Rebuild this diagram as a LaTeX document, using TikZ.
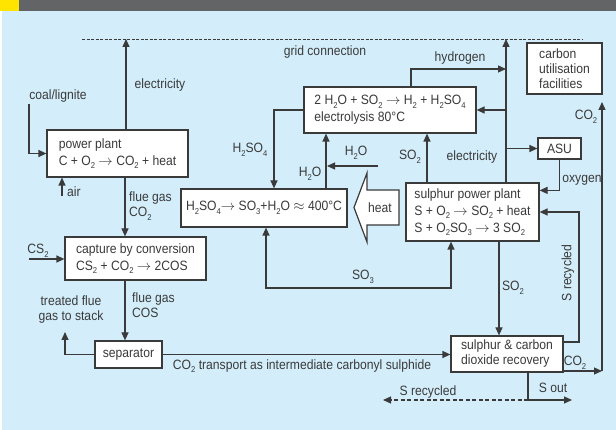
\documentclass[tikz,border=0pt]{standalone}
\usepackage{fontspec}
\setmainfont{Liberation Sans}[FakeStretch=0.9]
\usetikzlibrary{arrows.meta}
\definecolor{barcol}{HTML}{636466}
\definecolor{barmark}{HTML}{FFE400}
\definecolor{panel}{HTML}{D3EEFA}
\definecolor{ink}{HTML}{3A3A3A}
\newcommand{\lowidx}[1]{\raisebox{-0.5ex}{\fontsize{8.5}{9}\selectfont #1}}

\begin{document}
\begin{tikzpicture}[x=1pt,y=-1pt,font=\fontsize{13.5}{15}\selectfont,text=ink]
    \tikzstyle{box}  = [draw=ink,fill=white,line width=1.2pt,inner sep=2pt,align=left]
    \tikzstyle{flow} = [draw=ink,line width=1.2pt,>={Triangle[length=8pt,width=7pt]},->]
    \tikzstyle{lbl}  = [inner sep=0pt]

    \useasboundingbox (0,0) rectangle (616,430);
    \fill[panel] (2,11) rectangle (616,430);
    \fill[barcol] (0,0) rectangle (616,11);
    \fill[barmark] (0,0) rectangle (19,11);

    % boxes
    \node[box,minimum width=141pt,minimum height=47pt] (pp) at (117.5,153.5) {power plant\\[2pt]C + O\lowidx{2} $\rightarrow$ CO\lowidx{2} + heat};
    \node[box,minimum width=141pt,minimum height=43pt] (cap) at (135.5,258.5) {capture by conversion\\[2pt]CS\lowidx{2} + CO\lowidx{2} $\rightarrow$ 2COS};
    \node[box,minimum width=67pt,minimum height=27pt] (sep) at (128.5,354.5) {separator};
    \node[box,minimum width=112pt,minimum height=36pt] (rec) at (507,354) {sulphur \& carbon\\dioxide recovery};
    \node[box,minimum width=133pt,minimum height=58pt] (spp) at (472.5,212) {sulphur power plant\\[2pt]S + O\lowidx{2} $\rightarrow$ SO\lowidx{2} + heat\\[2pt]S + O\lowidx{2}SO\lowidx{3} $\rightarrow$ 3 SO\lowidx{2}};
    \node[box,minimum width=166pt,minimum height=38pt] (dec) at (264,208) {H\lowidx{2}SO\lowidx{4}$\rightarrow$ SO\lowidx{3}+H\lowidx{2}O $\approx$ 400°C};
    \node[box,minimum width=172pt,minimum height=46pt] (ely) at (390,110) {2 H\lowidx{2}O + SO\lowidx{2} $\rightarrow$ H\lowidx{2} + H\lowidx{2}SO\lowidx{4}\\[2pt]electrolysis 80°C};
    \node[box,minimum width=43pt,minimum height=21pt] (asu) at (559.5,148.5) {ASU};
    \node[box,minimum width=75pt,minimum height=51pt] (cuf) at (564.5,68.5) {carbon\\utilisation\\facilities};

    % heat arrow
    \draw[draw=ink,fill=white,line width=1.2pt] (399,190) -- (367,190) -- (367,173) -- (354,207.5) -- (367,242) -- (367,225) -- (399,225) -- cycle;
    \node[lbl] (heattxt) at (380,207.5) {heat};

    % grid connection
    \coordinate (gridW) at (82,39);
    \coordinate (gridE) at (583,39);
    \draw[ink,line width=0.9pt,dash pattern=on 3pt off 1.5pt] (gridW) -- (gridE);
    \node[lbl] (gridtxt) at (325,52) {grid connection};

    % coal power plant
    \coordinate (ppelec) at (126,39);
    \draw[flow] (pp.north -| ppelec) -- (ppelec);
    \node[lbl] (ppelectxt) at (160,85) {electricity};
    \coordinate (coal) at (29,104);
    \draw[flow] (coal) |- (pp.west);
    \node[lbl] (coaltxt) at (58,96) {coal/lignite};
    \coordinate (air) at (62,196);
    \draw[flow] (air) -- (air |- pp.south);
    \node[lbl,anchor=west] (airtxt) at (67,192) {air};
    \draw[flow] ([xshift=7.5pt]pp.south) -- ([xshift=-10.5pt]cap.north);
    \node[lbl,anchor=west,align=left] (fluetxt) at (129,206) {flue gas\\CO\lowidx{2}};

    % capture and separation
    \coordinate (cs) at (29,259);
    \draw[flow] (cs) -- (cs -| cap.west);
    \node[lbl] (cstxt) at (38,251) {CS\lowidx{2}};
    \draw[flow] ([xshift=-10.5pt]cap.south) -- ([xshift=-3.5pt]sep.north);
    \node[lbl,anchor=west,align=left] (costxt) at (132,305) {flue gas\\COS};
    \node[lbl,align=center] (stacktxt) at (71,310) {treated flue\\gas to stack};
    \coordinate (stack) at (65,332);
    \draw[flow] (sep.west) -| (stack);
    \draw[flow] (sep.east) -- (sep.east -| rec.west);
    \node[lbl] (transtxt) at (302,366) {CO\lowidx{2} transport as intermediate carbonyl sulphide};

    % recovery
    \coordinate (sturn) at (579,212);
    \draw[flow] ([yshift=12pt]rec.east) -| (sturn) -- (spp.east);
    \node[lbl,rotate=90] (srectxt) at (568,273) {S recycled};
    \coordinate (co2corner) at (602,371);
    \coordinate (co2top) at (602,102);
    \draw[flow] ([yshift=-17pt]rec.east) -- (co2corner);
    \draw[flow] (co2corner) -- (co2top);
    \node[lbl] (co2low) at (575,363) {CO\lowidx{2}};
    \node[lbl] (co2up) at (586,117) {CO\lowidx{2}};
    \coordinate (sjoin) at (528,400);
    \coordinate (sout) at (572,400);
    \coordinate (sback) at (383,400);
    \draw[flow] ([xshift=21pt]rec.south) -- (sjoin) -- (sout);
    \draw[flow,dash pattern=on 4pt off 2.5pt] (sjoin) -- (sback);
    \node[lbl] (souttxt) at (553,388) {S out};
    \node[lbl] (sbacktxt) at (428,392) {S recycled};

    % sulphur power plant
    \draw[flow] ([xshift=26.5pt]spp.south) -- ([xshift=-8pt]rec.north);
    \node[lbl] (so2down) at (513,288) {SO\lowidx{2}};
    \coordinate (spelec) at (506,39);
    \draw[flow] (spp.north -| spelec) -- (spelec);
    \draw[flow] (ely.east -| spelec) -- (ely.east);
    \draw[flow] (asu.west -| spelec) -- (asu.west);
    \node[lbl] (spelectxt) at (472,157) {electricity};
    \coordinate (hyd) at (506,69);
    \draw[flow] ([xshift=21pt]ely.north) |- (hyd);
    \node[lbl] (hydtxt) at (460,58) {hydrogen};
    \draw[flow] (asu.south) |- ([yshift=-8pt]spp.north east);
    \node[lbl] (oxytxt) at (582,180) {oxygen};
    \draw[flow] ([xshift=-45.5pt]spp.north) -- ([xshift=37pt]ely.south);
    \node[lbl] (so2up) at (410,157) {SO\lowidx{2}};

    % acid loop
    \draw[flow] (ely.west) -| ([xshift=10pt]dec.north);
    \node[lbl] (acidtxt) at (250,150) {H\lowidx{2}SO\lowidx{4}};
    \draw[flow] ([xshift=62pt]dec.north) -- ([xshift=-64pt]ely.south);
    \node[lbl] (wattxt) at (310,174) {H\lowidx{2}O};
    \coordinate (watin) at (378,166);
    \coordinate (watout) at (327,166);
    \draw[flow] (watin) -- (watout);
    \node[lbl] (watintxt) at (356,153) {H\lowidx{2}O};
    \coordinate (so3turn) at (358,288);
    \draw[flow,<->] ([xshift=2pt]dec.south) |- (so3turn) -| ([xshift=-21.5pt]spp.south);
    \node[lbl] (so3txt) at (363,277) {SO\lowidx{3}};
\end{tikzpicture}
\end{document}
